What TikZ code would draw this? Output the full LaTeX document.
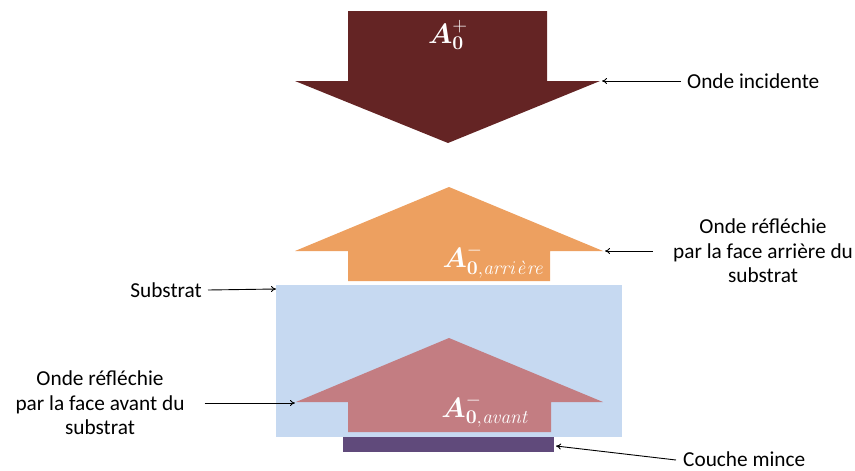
\documentclass[tikz,border=0pt]{standalone}
\usepackage{amsmath}
\usepackage[no-math]{fontspec}
\setmainfont{Carlito}
\usetikzlibrary{arrows.meta}
\definecolor{incid}{HTML}{642424}
\definecolor{arr}{HTML}{EDA060}
\definecolor{subs}{HTML}{C6D9F1}
\definecolor{avant}{HTML}{C37D82}
\definecolor{couche}{HTML}{604A7B}
\tikzset{
  lbl/.style={font=\fontsize{21.3}{24.5}\selectfont, align=center, inner sep=0pt},
  ptr/.style={-{To[length=5pt,width=6pt]}, line width=0.9pt, black},
  amp/.style={text=white, inner sep=0pt, font=\fontsize{20}{20}\selectfont, scale=1.35}
}
\begin{document}
\begin{tikzpicture}[x=1pt,y=-1pt]
\useasboundingbox (0,0) rectangle (855,471);
% incident arrow
\fill[incid] (348,11) -- (547,11) -- (547,81) -- (600,81) -- (448,143) -- (295,81) -- (348,81) -- cycle;
\coordinate (incR) at (602,81);
\node[amp, anchor=base] (Ainc) at (448,43) {$\boldsymbol{A}^{+}_{\mathbf{0}}$};
% orange reflected arrow
\fill[arr] (449,187) -- (603,251) -- (550,251) -- (550,281) -- (348,281) -- (348,251) -- (295,251) -- cycle;
\coordinate (arrR) at (605,251);
\node[amp, anchor=base east] (Aarr) at (545,267) {$\boldsymbol{A}^{-}_{\mathbf{0},\mathit{arri\grave{e}re}}$};
% substrate
\fill[subs] (276,285) rectangle (622,437);
\coordinate (subL) at (276,289);
% pink reflected arrow
\fill[avant] (449,338) -- (603,402) -- (551,402) -- (551,432) -- (348,432) -- (348,402) -- (296,402) -- cycle;
\coordinate (avL) at (295,403);
\node[amp, anchor=base east] (Aav) at (530,417) {$\boldsymbol{A}^{-}_{\mathbf{0},\mathit{avant}}$};
% thin layer
\fill[couche] (343,437) rectangle (554,452);
\coordinate (coR) at (556,446);
% labels
\node[lbl, anchor=west] (tInc) at (687,81) {Onde incidente};
\node[lbl] (tArr) at (763,251) {Onde réfléchie\\par la face arrière du\\substrat};
\node[lbl, anchor=east] (tSub) at (202,290) {Substrat};
\node[lbl] (tAv) at (100,403) {Onde réfléchie\\par la face avant du\\substrat};
\node[lbl, anchor=west] (tCo) at (683,459) {Couche mince};
% pointers
\draw[ptr] ([xshift=-6pt]tInc.west) -- (incR);
\draw[ptr] ([xshift=-20pt]tArr.west) -- (arrR);
\draw[ptr] ([xshift=6pt]tSub.east) -- (subL);
\draw[ptr] ([xshift=20pt]tAv.east) -- (avL);
\draw[ptr] ([xshift=-7pt,yshift=-1pt]tCo.west) -- (coR);
\end{tikzpicture}
\end{document}
